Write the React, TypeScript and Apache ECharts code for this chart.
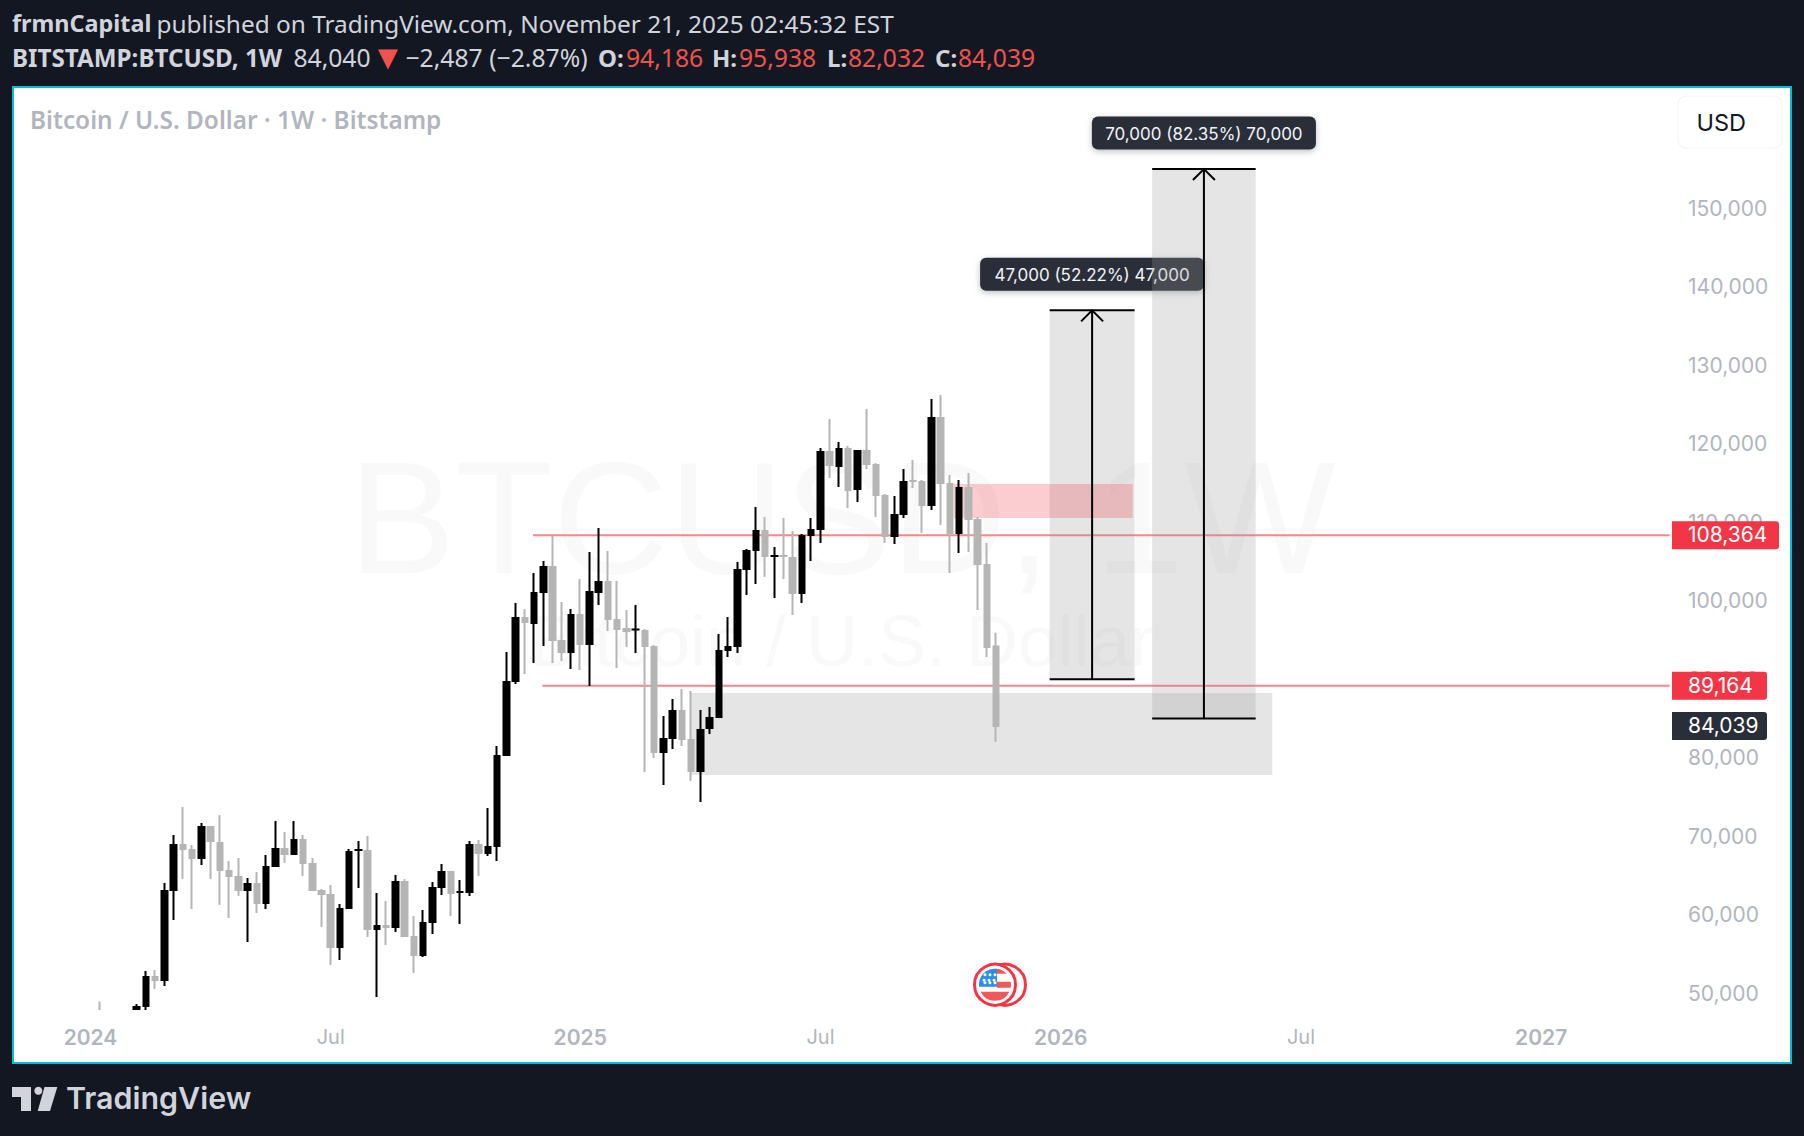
import React, { useEffect, useRef } from "react";
import * as echarts from "echarts";

// weeks are counted from the week of 2024-01-01 = 0; tuples are [open, high, low, close]
const weeksBeforeStart = 8;
const weeksShown = 192;
const weeklyOHLC: (number[] | null)[] = [
  null,
  [44000, 48969, 41500, 41700],
  null, null, null,
  [42600, 48640, 42300, 48260],
  [48390, 52840, 47880, 52080],
  [52080, 52970, 50550, 51700],
  [51700, 64050, 50930, 63030],
  [63160, 70170, 59340, 68890],
  [68890, 73730, 64560, 68390],
  [68250, 68890, 60740, 67240],
  [67240, 71700, 66350, 71180],
  [71180, 71310, 64560, 69410],
  [69150, 72710, 61250, 65710],
  [65580, 66860, 59590, 64950],
  [64810, 67240, 62400, 63160],
  [63160, 64690, 56540, 63920],
  [63920, 65450, 60230, 61510],
  [61510, 67620, 60740, 66090],
  [66220, 71950, 66090, 68380],
  [68380, 70550, 66600, 67750],
  [67750, 71950, 67620, 69530],
  [69530, 70170, 64940, 66600],
  [66470, 67240, 63030, 63160],
  [63030, 63290, 58450, 62650],
  [62520, 63800, 53610, 55900],
  [55900, 61380, 54240, 60740],
  [60870, 68380, 60740, 68000],
  [68250, 69400, 63420, 68260],
  [68130, 70040, 57170, 58200],
  [58200, 62780, 49530, 58570],
  [58570, 61760, 56160, 58450],
  [58450, 65070, 57810, 64180],
  [64180, 64560, 57170, 57300],
  [57170, 59850, 52590, 54880],
  [54880, 60610, 54630, 58950],
  [59090, 64180, 57560, 63410],
  [63550, 66470, 62520, 65450],
  [65450, 65580, 59850, 62780],
  [62900, 64430, 58830, 62910],
  [62910, 69400, 62400, 68890],
  [68890, 69530, 64940, 67880],
  [67880, 73610, 67490, 68640],
  [68770, 81510, 66860, 80230],
  [80360, 93480, 80230, 89660],
  [89790, 99720, 89400, 97810],
  [97810, 98960, 90680, 97300],
  [97170, 103540, 92080, 100990],
  [101130, 105070, 94240, 104300],
  [104300, 108260, 92080, 95010],
  [94880, 99850, 92330, 93480],
  [93480, 98960, 91310, 98190],
  [98190, 102780, 91190, 94500],
  [94500, 106220, 89150, 101120],
  [101130, 109270, 99470, 102390],
  [102390, 106350, 96150, 97690],
  [97550, 102520, 91440, 96410],
  [96410, 98830, 94120, 96150],
  [96340, 99470, 93350, 96350],
  [96150, 96410, 78190, 94250],
  [94110, 94370, 79980, 80740],
  [80740, 85330, 76540, 82390],
  [82530, 87490, 81120, 85960],
  [85960, 88770, 81510, 82400],
  [82270, 88510, 77050, 78320],
  [78320, 86090, 74370, 83540],
  [83800, 86470, 83030, 85070],
  [85200, 95770, 85070, 93600],
  [93740, 97940, 92840, 94110],
  [94250, 104940, 93350, 103920],
  [104050, 106600, 100740, 106340],
  [106480, 111950, 102140, 108890],
  [108890, 110680, 103030, 105710],
  [105700, 106850, 100360, 105710],
  [105710, 110550, 102780, 105700],
  [105450, 108890, 98190, 101000],
  [101000, 108510, 99720, 108250],
  [108390, 110550, 105070, 109020],
  [109150, 119470, 107370, 118950],
  [118950, 123160, 115650, 117300],
  [117180, 120230, 114500, 119340],
  [119340, 119720, 111820, 114120],
  [114250, 119210, 112590, 119080],
  [119080, 124430, 116790, 117430],
  [117300, 117560, 110680, 113480],
  [113350, 113610, 107370, 108260],
  [108260, 113350, 107240, 110930],
  [111060, 116790, 110550, 115130],
  [115270, 117940, 114370, 115260],
  [115130, 115390, 108640, 112210],
  [112210, 125710, 111570, 123290],
  [123290, 126220, 109660, 115010],
  [114880, 116030, 103540, 108640],
  [108640, 115390, 106090, 114370],
  [114370, 116280, 106220, 110430],
  [110290, 110680, 98830, 104690],
  [104560, 107370, 92840, 94120],
  [94186, 95938, 82032, 84039],
];

const timeLabels: Record<string, string> = {
  "2024-01-01": "2024",
  "2024-07-01": "Jul",
  "2025-01-06": "2025",
  "2025-07-07": "Jul",
  "2026-01-05": "2026",
  "2026-07-06": "Jul",
  "2027-01-04": "2027",
};

// [from week, to week, price]
const priceLevels = [
  [47.9, 170.9, 108364],
  [48.9, 170.9, 89164],
];
// [from week, to week, low price, high price]
const demandZones = [
  [65, 127.9, 77800, 88250],
  [103.8, 113, 90000, 137000],
];
const supplyZones = [[93.45, 112.8, 110550, 114880]];
const upperTargetZone = [[114.9, 126.1, 85000, 155000]];
// [from week, to week, arrow week, low price, high price]
const measures = [
  [103.8, 113, 108.4, 90000, 137000],
  [114.9, 126.1, 120.5, 85000, 155000],
];
const measureTexts = ["47,000 (52.22%) 47,000", "70,000 (82.35%) 70,000"];
const priceTags = [108364, 89164, 84039];
const priceTagTexts = ["108,364", "89,164", "84,039"];

const headerLine1 = "frmnCapital";
const headerLine1Rest = "published on TradingView.com, November 21, 2025 02:45:32 EST";
const symbolText = "BITSTAMP:BTCUSD, 1W";
const lastPrice = "84,040";
const changeText = "−2,487 (−2.87%)";
const ohlcTexts = [
  ["O:", "94,186"],
  ["H:", "95,938"],
  ["L:", "82,032"],
  ["C:", "84,039"],
];

const INK = "#000000";
const GREY = "#b5b5b5";
const RED = "#f23645";
const DARK = "#2a2e39";
const AXIS_TEXT = "#b2b5be";
const ZONE = "rgba(156,156,156,0.263)";
const UI_FONT = "Noto Sans";
const HEAD = "#d1d4dc";
const HEAD_RED = "#ef5350";

const categories: string[] = [];
{
  const d = new Date(Date.UTC(2024, 0, 1 - weeksBeforeStart * 7));
  for (let i = 0; i < weeksShown; i++) {
    categories.push(d.toISOString().slice(0, 10));
    d.setUTCDate(d.getUTCDate() + 7);
  }
}

const rectSeries = (name: string, rows: number[][], fill: string, z: number) => ({
  type: "custom",
  name,
  xAxisIndex: 1,
  z,
  silent: true,
  encode: { x: [0, 1], y: [2, 3] },
  data: rows,
  renderItem: (_p: any, api: any) => {
    const a = api.coord([api.value(0), api.value(3)]);
    const b = api.coord([api.value(1), api.value(2)]);
    return {
      type: "rect",
      shape: { x: a[0], y: a[1], width: b[0] - a[0], height: b[1] - a[1] },
      style: { fill },
    };
  },
});

const headText = (text: string, x: number, y: number, font: string, fill: string) => ({
  type: "text",
  z: 30,
  style: { text, x, y, verticalAlign: "middle", font, fill },
});

const buildOption = () => {
  const flagRed =
    "M2 -15.9 A16 16 0 0 1 11.6 -11 L2 -11 Z M2 -3 L15.7 -3 A16 16 0 0 1 15.7 3 L2 3 Z M14.4 7 A16 16 0 0 1 -14.4 7 Z";
  const flagBlue = "M-16 2 A16 16 0 0 1 2 -15.9 L2 2 Z";
  echarts.graphic.registerShape("flagRed", echarts.graphic.extendPath(flagRed, {}) as any);
  echarts.graphic.registerShape("flagBlue", echarts.graphic.extendPath(flagBlue, {}) as any);

  const stars: any[] = [];
  [-9, -3.5, -1].forEach((dy, row) =>
    [-10, -5, 0].forEach((dx) =>
      stars.push({
        type: "circle",
        z: 8,
        shape: { cx: 995 + dx + (row === 1 ? -1 : 0), cy: 984.7 + dy - 1, r: 1.5 },
        style: { fill: "#ffffff" },
      })
    )
  );

  const BOLD = `700 24px '${UI_FONT}'`;
  const REG = `400 24.7px '${UI_FONT}'`;
  const ohlcX = [[598, 626], [712, 739], [827, 848], [935, 958]];
  const ohlcEls = ohlcTexts.flatMap((t, i) => [
    headText(t[0], ohlcX[i][0], 57, BOLD, HEAD),
    headText(t[1], ohlcX[i][1], 57, REG, HEAD_RED),
  ]);

  return {
    animation: false,
    backgroundColor: "#131722",
    tooltip: { show: false },
    grid: { left: 11.96, top: 51.3, width: 1774.08, height: 1020.5, containLabel: false },
    xAxis: [
      {
        type: "category",
        data: categories,
        boundaryGap: true,
        z: 20,
        axisLine: { show: false },
        axisTick: { show: false },
        splitLine: { show: false },
        axisLabel: {
          margin: -45,
          hideOverlap: false,
          interval: (_i: number, v: string) => v in timeLabels,
          formatter: (v: string) => {
            const t = timeLabels[v] || "";
            return t === "Jul" ? `{m|${t}}` : `{y|${t}}`;
          },
          rich: {
            y: { fontFamily: "Inter", fontWeight: 600, fontSize: 21, color: AXIS_TEXT },
            m: { fontFamily: "Inter", fontWeight: 400, fontSize: 20, color: AXIS_TEXT },
          },
        },
      },
      { type: "value", show: false, min: -weeksBeforeStart - 0.5, max: weeksShown - weeksBeforeStart - 0.5 },
    ],
    yAxis: {
      type: "value",
      position: "right",
      min: 40000,
      max: 170000,
      interval: 10000,
      axisLine: { show: false },
      axisTick: { show: false },
      splitLine: { show: false },
      axisLabel: {
        inside: true,
        align: "left",
        margin: 98,
        padding: [0, 0, 2, 0],
        fontFamily: "Inter",
        fontSize: 21,
        color: AXIS_TEXT,
        formatter: (v: number) => (v >= 50000 && v <= 150000 ? v.toLocaleString("en-US") : ""),
      },
    },
    series: [
      {
        type: "custom",
        name: "levels",
        xAxisIndex: 1,
        z: 1,
        silent: true,
        encode: { x: [0, 1], y: 2 },
        data: priceLevels,
        renderItem: (_p: any, api: any) => {
          const a = api.coord([api.value(0), api.value(2)]);
          const b = api.coord([api.value(1), api.value(2)]);
          return {
            type: "line",
            shape: { x1: a[0], y1: a[1], x2: b[0], y2: b[1] },
            style: { stroke: "#f9858d", lineWidth: 2 },
          };
        },
      },
      rectSeries("demand", demandZones, ZONE, 2),
      rectSeries("supply", supplyZones, "rgba(242,54,69,0.25)", 2),
      {
        type: "custom",
        name: "measure labels",
        xAxisIndex: 1,
        z: 3,
        silent: true,
        encode: { x: 0, y: 1 },
        data: measures.map((m) => [m[2], m[4]]),
        renderItem: (p: any, api: any) => {
          const c = api.coord([api.value(0), api.value(1)]);
          return {
            type: "group",
            children: [
              {
                type: "rect",
                shape: { x: c[0] - 112, y: c[1] - 52.5, width: 224, height: 33, r: 6 },
                style: { fill: DARK, shadowBlur: 6, shadowColor: "rgba(0,0,0,0.25)", shadowOffsetY: 2 },
              },
              {
                type: "text",
                style: {
                  text: measureTexts[p.dataIndex],
                  x: c[0],
                  y: c[1] - 35.5,
                  fill: "#f0f3fa",
                  font: "17px Inter",
                  align: "center",
                  verticalAlign: "middle",
                },
              },
            ],
          };
        },
      },
      rectSeries("target", upperTargetZone, ZONE, 4),
      {
        type: "candlestick",
        name: "BTCUSD",
        z: 5,
        barWidth: 6,
        clip: false,
        silent: true,
        itemStyle: { color: INK, color0: GREY, borderColor: INK, borderColor0: GREY, borderWidth: 2 },
        data: [
          ...Array.from({ length: weeksBeforeStart }, () => ["-", "-", "-", "-"]),
          ...weeklyOHLC.map((r) => (r ? [r[0], r[3], r[2], r[1]] : ["-", "-", "-", "-"])),
        ],
      },
      {
        type: "custom",
        name: "measures",
        xAxisIndex: 1,
        z: 6,
        silent: true,
        encode: { x: [0, 1], y: [3, 4] },
        data: measures,
        renderItem: (_p: any, api: any) => {
          const tl = api.coord([api.value(0), api.value(4)]);
          const br = api.coord([api.value(1), api.value(3)]);
          const ax = api.coord([api.value(2), api.value(4)])[0];
          const s = { stroke: INK, lineWidth: 2, fill: "none" };
          return {
            type: "group",
            children: [
              { type: "line", shape: { x1: tl[0], y1: tl[1], x2: br[0], y2: tl[1] }, style: s },
              { type: "line", shape: { x1: tl[0], y1: br[1], x2: br[0], y2: br[1] }, style: s },
              { type: "line", shape: { x1: ax, y1: tl[1], x2: ax, y2: br[1] }, style: s },
              {
                type: "polyline",
                shape: { points: [[ax - 11, tl[1] + 11], [ax, tl[1]], [ax + 11, tl[1] + 11]] },
                style: s,
              },
            ],
          };
        },
      },
      {
        type: "custom",
        name: "price tags",
        xAxisIndex: 1,
        z: 7,
        silent: true,
        encode: { x: 0, y: 1 },
        data: priceTags.map((v) => [0, v]),
        renderItem: (p: any, api: any) => {
          const y = api.coord([0, api.value(1)])[1];
          const i = p.dataIndex;
          return {
            type: "group",
            children: [
              {
                type: "rect",
                shape: { x: 1672, y: y - 14, width: i === 0 ? 107 : 95, height: 28, r: [0, 3, 3, 0] },
                style: { fill: i === 2 ? DARK : RED },
              },
              {
                type: "text",
                style: {
                  text: priceTagTexts[i],
                  x: 1688,
                  y: y - 0.5,
                  fill: "#ffffff",
                  font: "21px Inter",
                  align: "left",
                  verticalAlign: "middle",
                },
              },
            ],
          };
        },
      },
    ],
    graphic: {
      elements: [
        { type: "rect", z: -2, shape: { x: 13, y: 87, width: 1778, height: 976 }, style: { fill: "#ffffff", stroke: "#00bcd4", lineWidth: 2 } },
        { type: "text", z: -1, style: { text: "BTCUSD, 1W", x: 842, y: 517, align: "center", verticalAlign: "middle", font: "160px 'Liberation Sans'", fill: "#f9f9f9" } },
        { type: "text", z: -1, style: { text: "Bitcoin / U.S. Dollar", x: 842, y: 641, align: "center", verticalAlign: "middle", font: "72px 'Liberation Sans'", fill: "#f9f9f9" } },
        // hides what falls under the chart's lower edge
        { type: "rect", z: 10, shape: { x: 14, y: 1010, width: 1776, height: 52 }, style: { fill: "#ffffff" } },

        headText(headerLine1, 12, 23, `700 23.4px '${UI_FONT}'`, HEAD),
        headText(headerLine1Rest, 156.5, 23, `400 24.4px '${UI_FONT}'`, HEAD),
        headText(symbolText, 12, 57, `700 24.2px '${UI_FONT}'`, HEAD),
        headText(lastPrice, 293.4, 57, REG, HEAD),
        headText("▼", 371, 56, `400 34px '${UI_FONT}'`, HEAD_RED),
        headText(changeText, 405.5, 57, REG, HEAD),
        ...ohlcEls,

        { type: "text", z: 8, style: { text: "Bitcoin / U.S. Dollar · 1W · Bitstamp", x: 30, y: 119, verticalAlign: "middle", font: `600 24.4px '${UI_FONT}'`, fill: AXIS_TEXT } },

        { type: "rect", z: 8, shape: { x: 1678, y: 96, width: 104, height: 52, r: 8 }, style: { fill: "#ffffff", stroke: "#f0f3fa", lineWidth: 1 } },
        { type: "text", z: 9, style: { text: "USD", x: 1696.5, y: 122, verticalAlign: "middle", font: "23.5px Inter", fill: "#131722" } },

        { type: "circle", z: 7, shape: { cx: 1005, cy: 984.7, r: 20.5 }, style: { fill: "#ffffff", stroke: RED, lineWidth: 3 } },
        { type: "circle", z: 7, z2: 1, shape: { cx: 995, cy: 984.7, r: 20.5 }, style: { fill: "#ffffff", stroke: RED, lineWidth: 3 } },
        { type: "flagRed", z: 8, x: 995, y: 984.7, style: { fill: "#f0585b" } },
        { type: "flagBlue", z: 8, x: 995, y: 984.7, style: { fill: "#2a8eea" } },
        ...stars,

        { type: "polygon", z: 30, shape: { points: [[12, 1087], [31, 1087], [31, 1111], [21, 1111], [21, 1097], [12, 1097]] }, style: { fill: HEAD } },
        { type: "circle", z: 30, shape: { cx: 38.3, cy: 1090.7, r: 4 }, style: { fill: HEAD } },
        { type: "polygon", z: 30, shape: { points: [[44.5, 1087], [57.3, 1087], [50, 1111], [37.7, 1111]] }, style: { fill: HEAD } },
        { type: "text", z: 30, style: { text: "TradingView", x: 66, y: 1098, verticalAlign: "middle", font: "600 30.4px Inter", fill: HEAD } },
      ],
    },
  };
};

export default function App() {
  const ref = useRef<HTMLDivElement>(null);
  useEffect(() => {
    document.body.style.margin = "0";
    document.body.style.background = "#131722";
    const chart = echarts.init(ref.current!, undefined, { renderer: "svg" });
    chart.setOption(buildOption() as any);
    return () => chart.dispose();
  }, []);
  return <div ref={ref} style={{ position: "absolute", left: 0, top: 0, width: 1804, height: 1136 }} />;
}
